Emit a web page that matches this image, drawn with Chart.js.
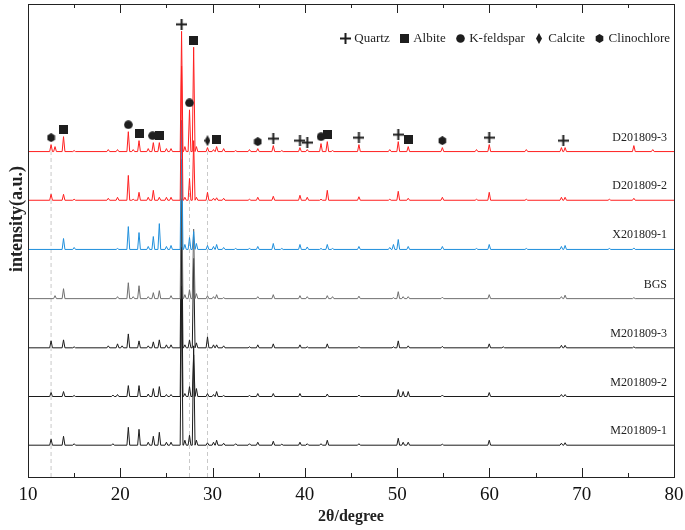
<!DOCTYPE html>
<html><head><meta charset="utf-8">
<script src="https://cdn.jsdelivr.net/npm/chart.js@4/dist/chart.umd.min.js"></script>
<style>html,body{margin:0;padding:0;background:#fff;}</style>
</head><body>
<canvas id="c" width="685" height="530"></canvas>
<script>
// ---- data ----
const twoTheta = [12.5, 12.93, 13.85, 15.0, 18.7, 19.2, 19.7, 20.2, 20.87, 21.4,
  22.03, 23.03, 23.58, 24.23, 25.0, 25.5, 26.64, 27.0, 27.5, 27.95,
  28.25, 29.45, 30.1, 30.44, 31.2, 32.5, 34.0, 34.9, 36.58, 37.5,
  39.47, 40.26, 41.75, 42.43, 43.0, 45.86, 49.2, 49.6, 50.12, 50.65,
  51.2, 54.9, 58.6, 59.98, 61.5, 64.0, 67.8, 68.2, 73.0, 75.65, 77.7];

const hD3 = [7, 5, 15, 1, 2, 0, 2, 0, 20, 2,
  11, 3, 9, 9, 3, 3, 121, 5, 42, 105,
  5, 4, 2, 5, 3, 1, 2, 3, 6, 1,
  4, 2, 8, 10, 1, 7, 2, 0, 10, 0,
  5, 4, 2, 7, 0, 2, 4, 4, 0, 6, 2];
const hD2 = [6, 0, 6, 1, 2, 0, 3, 0, 25, 1,
  8, 3, 10, 3, 3, 3, 135, 3, 22, 60,
  3, 8, 2, 2.5, 2, 0, 1, 3, 4, 0,
  5, 3, 1, 10, 0, 3.5, 1, 0, 9, 0,
  2, 3, 1, 8, 0, 1, 3, 3, 1, 2, 0];
const hX1 = [0, 0, 11, 2, 0, 0, 1, 0, 23, 0,
  17, 3, 13, 26, 3, 4, 130, 5, 12, 18,
  6, 4, 3, 5, 2, 1, 1, 3, 6, 1,
  5, 2.5, 1, 5, 1, 3, 2, 5, 10, 0,
  3, 3, 1, 5, 0, 1, 3, 4, 1, 1.5, 0];
const hBGS = [0, 3, 10, 0, 0, 0, 2, 0, 16, 2,
  13, 2, 6, 8, 0, 3, 140, 4, 9, 70,
  5, 3, 2, 4, 1, 0, 0, 2, 4, 0,
  3, 2, 0, 3, 2, 2.5, 0, 1, 7, 2,
  2, 1.5, 0, 4, 0, 0, 2, 3.5, 0, 1, 0];
const hM3 = [7, 0, 8, 1, 2, 0, 4, 2, 14, 0,
  7, 2, 6, 8, 3, 3, 150, 3, 8, 90,
  5, 11, 3, 3, 2, 0, 1, 3, 4, 0,
  3, 1, 0, 4, 0, 1.5, 0, 1, 7, 0,
  2, 1.5, 0, 4, 1, 0, 2.5, 2.5, 0, 1, 0];
const hM2 = [4, 0, 5, 1, 0, 1.5, 2, 0, 11, 0,
  11, 2.5, 8, 10, 2, 2, 150, 3, 10, 42,
  8, 3, 2, 5, 1, 0, 1, 3, 3, 0,
  3, 0, 0, 2.5, 0, 1.5, 0, 0, 7, 5,
  5, 1.5, 0, 4, 0, 0, 2, 2, 0, 0, 0];
const hM1 = [6, 0, 9, 1.5, 0, 1.5, 0, 0, 18, 0,
  16, 3, 9, 13, 3, 3, 160, 5, 10, 100,
  5, 2.5, 3, 5, 2, 1.5, 1.5, 3, 4, 1,
  3, 1.5, 1.5, 5, 0, 1.5, 0, 0, 7, 3,
  3, 1, 0, 5, 0, 0, 2, 2.5, 0, 0, 0];

const seriesNames = ['D201809-3', 'D201809-2', 'X201809-1', 'BGS', 'M201809-3', 'M201809-2', 'M201809-1'];
const stackOffsets = [327.5, 278.5, 229, 179.5, 130, 81, 32];

const quartzPeaks = [26.64, 36.58, 39.47, 40.26, 45.86, 50.12, 59.98, 68.0];
const albitePeaks = [13.85, 22.03, 24.3, 27.95, 30.44, 42.43, 51.2];
const kfeldsparPeaks = [20.87, 23.5, 27.5, 41.75];
const calcitePeaks = [29.45];
const clinochlorePeaks = [12.5, 34.9, 54.9];
const refLines = [12.5, 27.5, 29.45];

// ---- styles ----
const traceColors = ['#ff1f1f', '#ff1f1f', '#1f8fdc', '#6f6f6f', '#1c1c1c', '#1c1c1c', '#1c1c1c'];
const SERIF = '"Liberation Serif", "Times New Roman", serif';
const peakHalfWidth = 0.15;
const markerGap = 7;

const traces = [hD3, hD2, hX1, hBGS, hM3, hM2, hM1];

function tracePoints(h, base) {
  const pts = [{x: 10, y: base}];
  twoTheta.forEach((p, i) => {
    if (h[i] > 0) {
      pts.push({x: p - peakHalfWidth, y: base}, {x: p, y: base + h[i]}, {x: p + peakHalfWidth, y: base});
    }
  });
  pts.push({x: 80, y: base});
  return pts;
}
function topOfD3(x) {
  let m = 0;
  twoTheta.forEach((p, i) => { if (Math.abs(p - x) <= 0.35) m = Math.max(m, hD3[i]); });
  return stackOffsets[0] + m + markerGap;
}

function icon(w, h, draw) {
  const c = document.createElement('canvas');
  c.width = w; c.height = h;
  const g = c.getContext('2d');
  g.fillStyle = '#1e1e1e'; g.strokeStyle = '#1e1e1e';
  draw(g, w, h);
  return c;
}
const plusIcon = icon(11, 11, g => { g.fillRect(0, 4.5, 11, 2); g.fillRect(4.5, 0, 2, 11); });
const squareIcon = icon(9, 9, g => { g.fillRect(0, 0, 9, 9); });
const circleIcon = icon(9, 9, g => { g.beginPath(); g.arc(4.5, 4.5, 4.3, 0, Math.PI * 2); g.fill(); });
const diamondIcon = icon(6, 11, g => { g.beginPath(); g.moveTo(3, 0); g.lineTo(6, 5.5); g.lineTo(3, 11); g.lineTo(0, 5.5); g.closePath(); g.fill(); });
const hexIcon = icon(9, 9, g => {
  g.beginPath();
  for (let k = 0; k < 6; k++) { const a = Math.PI / 6 + k * Math.PI / 3; g.lineTo(4.5 + 4.4 * Math.cos(a), 4.5 + 4.4 * Math.sin(a)); }
  g.closePath(); g.fill();
});

const datasets = [];
const markerDefs = [
  ['Quartz', quartzPeaks, plusIcon],
  ['Albite', albitePeaks, squareIcon],
  ['K-feldspar', kfeldsparPeaks, circleIcon],
  ['Calcite', calcitePeaks, diamondIcon],
  ['Clinochlore', clinochlorePeaks, hexIcon]
];
markerDefs.forEach(([name, peaks, img]) => {
  datasets.push({label: name, isMarker: true, order: 0,
    data: peaks.map(p => ({x: p, y: topOfD3(p)})),
    pointStyle: img, pointRadius: 0.5, pointBorderWidth: 0, borderWidth: 0, showLine: false,
    backgroundColor: '#222', borderColor: '#222'});
});
traces.forEach((h, i) => {
  datasets.push({label: seriesNames[i], data: tracePoints(h, stackOffsets[i]),
    showLine: true, pointRadius: 0, borderWidth: 1, borderColor: traceColors[i],
    tension: 0, order: i + 1});
});
refLines.forEach(v => {
  datasets.push({label: 'ref', data: [{x: v, y: 0}, {x: v, y: stackOffsets[0]}],
    showLine: true, pointRadius: 0, borderWidth: 1, borderColor: '#c9c9c9',
    borderDash: [4, 3], order: 30});
});

const decor = {
  id: 'decor',
  afterDatasetsDraw(chart) {
    const {ctx, chartArea: a, scales: {x, y}} = chart;
    ctx.save();
    ctx.fillStyle = '#222';
    // legend row built from the marker datasets
    const items = chart.data.datasets.filter(d => d.isMarker);
    ctx.font = '13px ' + SERIF;
    ctx.textAlign = 'left';
    ctx.textBaseline = 'middle';
    const legendY = a.top + 34;
    let end = a.right - 4;
    const pos = [];
    for (let k = items.length - 1; k >= 0; k--) {
      const w = ctx.measureText(items[k].label).width;
      const tx = end - w;
      const ic = tx - 9;
      pos[k] = {tx, ic};
      end = ic - 14.5;
    }
    items.forEach((d, k) => {
      const img = d.pointStyle;
      ctx.drawImage(img, Math.round(pos[k].ic - img.width / 2), Math.round(legendY - img.height / 2));
      ctx.fillText(d.label, pos[k].tx, legendY + 0.5);
    });
    // series labels
    ctx.font = '12px ' + SERIF;
    ctx.textAlign = 'right';
    ctx.textBaseline = 'alphabetic';
    seriesNames.forEach((n, i) => ctx.fillText(n, a.right - 7, y.getPixelForValue(stackOffsets[i]) - 11));
    // frame
    ctx.strokeStyle = '#222';
    ctx.lineWidth = 1;
    ctx.strokeRect(Math.round(a.left) + 0.5, Math.round(a.top) + 0.5, Math.round(a.right - a.left), Math.round(a.bottom - a.top));
    // inward ticks on top and bottom
    ctx.beginPath();
    for (let v = 15; v < 80; v += 5) {
      const px = Math.round(x.getPixelForValue(v)) + 0.5;
      const len = v % 10 === 0 ? 9 : 4;
      ctx.moveTo(px, a.bottom); ctx.lineTo(px, a.bottom - len);
      ctx.moveTo(px, a.top); ctx.lineTo(px, a.top + len);
    }
    ctx.stroke();
    // y title
    ctx.translate(17, 219);
    ctx.rotate(-Math.PI / 2);
    ctx.font = 'bold 18px ' + SERIF;
    ctx.textAlign = 'center';
    ctx.textBaseline = 'middle';
    ctx.fillText('intensity(a.u.)', 0, 0);
    ctx.restore();
  }
};

new Chart(document.getElementById('c'), {
  type: 'scatter',
  data: {datasets},
  options: {
    responsive: false, animation: false, devicePixelRatio: 1,
    layout: {padding: {left: 28, right: 11, top: 1, bottom: 0}},
    scales: {
      x: {type: 'linear', min: 10, max: 80,
        grid: {display: false, drawTicks: false}, border: {display: false},
        ticks: {stepSize: 10, maxRotation: 0, padding: 7, color: '#111', font: {family: SERIF, size: 19}},
        title: {display: true, text: '2θ/degree', color: '#222', font: {family: SERIF, size: 16, weight: 'bold'}, padding: {top: 0, bottom: 4}},
        afterFit: s => { s.height = 53; s.paddingLeft = 0; s.paddingRight = 0; }
      },
      y: {display: false, min: 0, max: 476}
    },
    plugins: {
      tooltip: {enabled: false},
      legend: {display: false}
    }
  },
  plugins: [decor]
});
</script>
</body></html>
